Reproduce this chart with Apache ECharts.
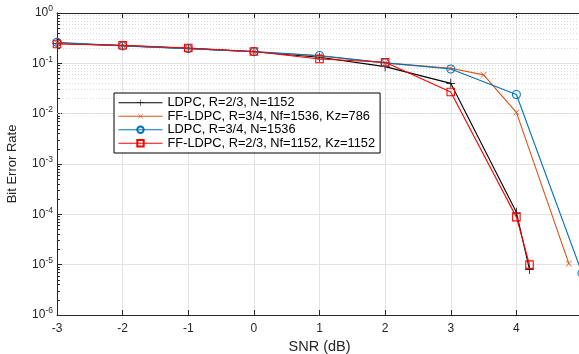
<!DOCTYPE html>
<html>
<head>
<meta charset="utf-8">
<script src="https://cdn.jsdelivr.net/npm/echarts@6/dist/echarts.min.js"></script>
<style>
  html, body { margin: 0; padding: 0; background: #fff; }
  #chart { width: 579px; height: 354px; }
</style>
</head>
<body>
<div id="chart"></div>
<script>
// SNR points (dB) for each curve
const snrLdpc23 = [-3, -2, -1, 0, 1, 2, 3, 4, 4.2];
const snrFf34 = [-3, -2, -1, 0, 1, 2, 3, 3.5, 4, 4.8];
const snrLdpc34 = [-3, -2, -1, 0, 1, 2, 3, 4, 5];
const snrFf23 = [-3, -2, -1, 0, 1, 2, 3, 4, 4.2];

// bit error rates
const berLdpc23 = [0.25, 0.225, 0.198, 0.17, 0.132, 0.086, 0.040, 1.1e-4, 8e-6];
const berFf34 = [0.25, 0.225, 0.198, 0.17, 0.14, 0.102, 0.08, 0.059, 0.0106, 1.05e-5];
const berLdpc34 = [0.262, 0.222, 0.196, 0.171, 0.143, 0.102, 0.077, 0.024, 6.8e-6];
const berFf23 = [0.242, 0.228, 0.202, 0.172, 0.122, 0.105, 0.027, 8.8e-5, 1e-5];

const seriesNames = [
  'LDPC, R=2/3, N=1152',
  'FF-LDPC, R=3/4, Nf=1536, Kz=786',
  'LDPC, R=3/4, N=1536',
  'FF-LDPC, R=2/3, Nf=1152, Kz=1152'
];

const xTicks = [-3, -2, -1, 0, 1, 2, 3, 4, 5];

const plusPath = 'path://M4.6,0 h0.8 v4.6 h4.6 v0.8 h-4.6 v4.6 h-0.8 v-4.6 h-4.6 v-0.8 h4.6 z';

function pairs(xs, ys) {
  return xs.map((x, i) => [x, ys[i]]);
}

// dotted minor grid and short inside ticks at 2..9 of each decade
const minorLines = [];
const minorTicks = [];
for (let d = -6; d < 0; d++) {
  for (let m = 2; m <= 9; m++) {
    const v = m * Math.pow(10, d);
    minorLines.push({ yAxis: v });
    minorTicks.push([{ coord: [-3, v] }, { coord: [-2.955, v] }]);
  }
}

const font = 'Liberation Sans, Arial, sans-serif';
const axisColor = '#262626';

const chart = echarts.init(document.getElementById('chart'));

chart.setOption({
  animation: false,
  textStyle: { fontFamily: font },
  grid: { left: 57, top: 13, width: 525, height: 302, outerBoundsMode: 'none', containLabel: false },
  legend: {
    orient: 'vertical',
    left: 114,
    top: 93,
    padding: [3, 5, 3, 4],
    itemWidth: 44,
    itemHeight: 8,
    itemGap: 0,
    backgroundColor: '#fff',
    borderColor: '#000',
    borderWidth: 1,
    borderRadius: 0,
    lineStyle: { width: 1 },
    textStyle: { fontFamily: font, fontSize: 12.8, lineHeight: 13.5, color: '#000' },
    data: seriesNames
  },
  xAxis: [
    {
      type: 'value',
      min: -3,
      max: 5,
      interval: 1,
      name: 'SNR (dB)',
      nameLocation: 'middle',
      nameGap: 24,
      nameTextStyle: { fontSize: 14.5, color: axisColor },
      axisLine: { onZero: false, lineStyle: { color: axisColor, width: 1 } },
      axisTick: { inside: true, length: 5, lineStyle: { color: axisColor } },
      axisLabel: {
        fontSize: 12,
        color: axisColor,
        margin: 8,
        showMaxLabel: true,
        formatter: v => xTicks.includes(v) ? String(v) : ''
      },
      splitLine: { show: true, lineStyle: { color: '#e3e3e3', width: 1 } }
    },
    {
      type: 'value',
      position: 'top',
      min: -3,
      max: 5,
      interval: 1,
      axisLine: { show: true, onZero: false, lineStyle: { color: axisColor, width: 1 } },
      axisTick: { show: true, inside: true, length: 5, lineStyle: { color: axisColor } },
      axisLabel: { show: false },
      splitLine: { show: false }
    }
  ],
  yAxis: {
    type: 'log',
    logBase: 10,
    min: 1e-6,
    max: 1,
    name: 'Bit Error Rate',
    nameLocation: 'middle',
    nameGap: 38,
    nameTextStyle: { fontSize: 13, color: axisColor },
    axisLine: { show: true, onZero: false, lineStyle: { color: axisColor, width: 1 } },
    axisTick: { inside: true, length: 5, lineStyle: { color: axisColor } },
    axisLabel: {
      color: axisColor,
      margin: 4,
      formatter: v => '{b|10}{s|' + Math.round(Math.log10(v)) + '}',
      rich: {
        b: { fontSize: 12, color: axisColor, fontFamily: font },
        s: { fontSize: 8.5, color: axisColor, fontFamily: font, verticalAlign: 'bottom', padding: [0, 0, 8, 0] }
      }
    },
    splitLine: { show: true, lineStyle: { color: '#e3e3e3', width: 1 } }
  },
  series: [
    {
      name: seriesNames[0],
      type: 'line',
      data: pairs(snrLdpc23, berLdpc23),
      symbol: plusPath,
      symbolSize: 9,
      color: '#000000',
      lineStyle: { color: '#000000', width: 1.1 },
      itemStyle: { color: '#000000' },
      z: 3,
      markLine: {
        silent: true,
        symbol: 'none',
        label: { show: false },
        lineStyle: { color: '#dadada', type: [1, 2], width: 1 },
        data: minorLines,
        z: 1
      }
    },
    {
      name: seriesNames[1],
      type: 'line',
      data: pairs(snrFf34, berFf34),
      symbol: plusPath,
      symbolRotate: 45,
      symbolSize: 8,
      color: '#D95319',
      lineStyle: { color: '#D95319', width: 1.1 },
      itemStyle: { color: '#D95319' },
      z: 4,
      markLine: {
        silent: true,
        symbol: 'none',
        label: { show: false },
        lineStyle: { color: axisColor, type: 'solid', width: 1 },
        data: minorTicks,
        z: 2
      }
    },
    {
      name: seriesNames[2],
      type: 'line',
      data: pairs(snrLdpc34, berLdpc34),
      symbol: 'circle',
      symbolSize: 8,
      color: '#0072BD',
      lineStyle: { color: '#0072BD', width: 1.1 },
      itemStyle: { color: 'rgba(0,0,0,0)', borderColor: '#0072BD', borderWidth: 1.1 },
      z: 5
    },
    {
      name: seriesNames[3],
      type: 'line',
      data: pairs(snrFf23, berFf23),
      symbol: 'rect',
      symbolSize: 7.5,
      color: '#FF0000',
      lineStyle: { color: '#FF0000', width: 1.1 },
      itemStyle: { color: 'rgba(0,0,0,0)', borderColor: '#FF0000', borderWidth: 1.1 },
      z: 6
    }
  ]
});
</script>
</body>
</html>
